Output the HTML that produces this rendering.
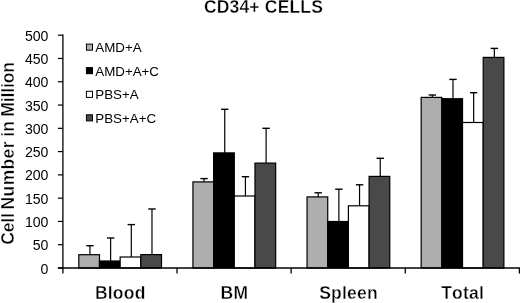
<!DOCTYPE html>
<html><head><meta charset="utf-8"><title>CD34+ CELLS</title>
<style>
html,body{margin:0;padding:0;background:#fff;}
body{width:520px;height:303px;overflow:hidden;}
svg{display:block;will-change:transform;}
text{font-family:"Liberation Sans",Arial,sans-serif;fill:#000;font-kerning:none;}
.t{font-weight:bold;font-size:17.5px;letter-spacing:0.18px;stroke:#fff;stroke-width:0.35px;}
.yl{font-weight:bold;font-size:17.5px;stroke:#fff;stroke-width:0.35px;}
.yt{font-size:14.1px;}
.c{font-weight:bold;font-size:17.5px;letter-spacing:0.2px;stroke:#fff;stroke-width:0.35px;}
.l{font-size:13.33px;}
</style></head><body>
<svg width="520" height="303" viewBox="0 0 520 303">
<rect width="520" height="303" fill="#fff"/>
<text class="t" x="263.5" y="12.6" text-anchor="middle">CD34+ CELLS</text>
<text class="yl" transform="translate(14.2,244.70) rotate(-90)" style="letter-spacing:-0.20px">Cell</text>
<text class="yl" transform="translate(14.2,209.40) rotate(-90)" style="letter-spacing:0.35px">Number</text>
<text class="yl" transform="translate(14.2,136.80) rotate(-90)" style="letter-spacing:0.30px">in</text>
<text class="yl" transform="translate(14.2,116.80) rotate(-90)" style="letter-spacing:-0.10px">Million</text>
<line x1="57.90" y1="268.00" x2="62.90" y2="268.00" stroke="#000" stroke-width="1.2"/>
<text class="yt" x="48.40" y="273.50" text-anchor="end">0</text>
<line x1="57.90" y1="244.72" x2="62.90" y2="244.72" stroke="#000" stroke-width="1.2"/>
<text class="yt" x="48.40" y="250.22" text-anchor="end">50</text>
<line x1="57.90" y1="221.44" x2="62.90" y2="221.44" stroke="#000" stroke-width="1.2"/>
<text class="yt" x="48.40" y="226.94" text-anchor="end">100</text>
<line x1="57.90" y1="198.16" x2="62.90" y2="198.16" stroke="#000" stroke-width="1.2"/>
<text class="yt" x="48.40" y="203.66" text-anchor="end">150</text>
<line x1="57.90" y1="174.88" x2="62.90" y2="174.88" stroke="#000" stroke-width="1.2"/>
<text class="yt" x="48.40" y="180.38" text-anchor="end">200</text>
<line x1="57.90" y1="151.60" x2="62.90" y2="151.60" stroke="#000" stroke-width="1.2"/>
<text class="yt" x="48.40" y="157.10" text-anchor="end">250</text>
<line x1="57.90" y1="128.32" x2="62.90" y2="128.32" stroke="#000" stroke-width="1.2"/>
<text class="yt" x="48.40" y="133.82" text-anchor="end">300</text>
<line x1="57.90" y1="105.04" x2="62.90" y2="105.04" stroke="#000" stroke-width="1.2"/>
<text class="yt" x="48.40" y="110.54" text-anchor="end">350</text>
<line x1="57.90" y1="81.76" x2="62.90" y2="81.76" stroke="#000" stroke-width="1.2"/>
<text class="yt" x="48.40" y="87.26" text-anchor="end">400</text>
<line x1="57.90" y1="58.48" x2="62.90" y2="58.48" stroke="#000" stroke-width="1.2"/>
<text class="yt" x="48.40" y="63.98" text-anchor="end">450</text>
<line x1="57.90" y1="35.20" x2="62.90" y2="35.20" stroke="#000" stroke-width="1.2"/>
<text class="yt" x="48.40" y="40.70" text-anchor="end">500</text>
<line x1="89.94" y1="245.70" x2="89.94" y2="254.70" stroke="#000" stroke-width="1.2"/>
<line x1="86.24" y1="245.70" x2="93.64" y2="245.70" stroke="#000" stroke-width="1.4"/>
<rect x="78.80" y="254.70" width="20.68" height="13.30" fill="#aeaeae" stroke="#000" stroke-width="1.2"/>
<line x1="110.62" y1="238.00" x2="110.62" y2="261.00" stroke="#000" stroke-width="1.2"/>
<line x1="106.92" y1="238.00" x2="114.32" y2="238.00" stroke="#000" stroke-width="1.4"/>
<rect x="99.48" y="261.00" width="20.68" height="7.00" fill="#000000" stroke="#000" stroke-width="1.2"/>
<line x1="131.30" y1="224.60" x2="131.30" y2="257.00" stroke="#000" stroke-width="1.2"/>
<line x1="127.60" y1="224.60" x2="135.00" y2="224.60" stroke="#000" stroke-width="1.4"/>
<rect x="120.16" y="257.00" width="20.68" height="11.00" fill="#ffffff" stroke="#000" stroke-width="1.2"/>
<line x1="151.98" y1="209.00" x2="151.98" y2="254.60" stroke="#000" stroke-width="1.2"/>
<line x1="148.28" y1="209.00" x2="155.68" y2="209.00" stroke="#000" stroke-width="1.4"/>
<rect x="140.84" y="254.60" width="20.68" height="13.40" fill="#494949" stroke="#000" stroke-width="1.2"/>
<line x1="204.07" y1="178.60" x2="204.07" y2="181.90" stroke="#000" stroke-width="1.2"/>
<line x1="200.37" y1="178.60" x2="207.77" y2="178.60" stroke="#000" stroke-width="1.4"/>
<rect x="192.93" y="181.90" width="20.68" height="86.10" fill="#aeaeae" stroke="#000" stroke-width="1.2"/>
<line x1="224.75" y1="109.30" x2="224.75" y2="152.90" stroke="#000" stroke-width="1.2"/>
<line x1="221.05" y1="109.30" x2="228.45" y2="109.30" stroke="#000" stroke-width="1.4"/>
<rect x="213.61" y="152.90" width="20.68" height="115.10" fill="#000000" stroke="#000" stroke-width="1.2"/>
<line x1="245.43" y1="176.70" x2="245.43" y2="196.00" stroke="#000" stroke-width="1.2"/>
<line x1="241.73" y1="176.70" x2="249.13" y2="176.70" stroke="#000" stroke-width="1.4"/>
<rect x="234.29" y="196.00" width="20.68" height="72.00" fill="#ffffff" stroke="#000" stroke-width="1.2"/>
<line x1="266.11" y1="128.30" x2="266.11" y2="163.10" stroke="#000" stroke-width="1.2"/>
<line x1="262.41" y1="128.30" x2="269.81" y2="128.30" stroke="#000" stroke-width="1.4"/>
<rect x="254.97" y="163.10" width="20.68" height="104.90" fill="#494949" stroke="#000" stroke-width="1.2"/>
<line x1="318.19" y1="192.80" x2="318.19" y2="196.90" stroke="#000" stroke-width="1.2"/>
<line x1="314.49" y1="192.80" x2="321.89" y2="192.80" stroke="#000" stroke-width="1.4"/>
<rect x="307.05" y="196.90" width="20.68" height="71.10" fill="#aeaeae" stroke="#000" stroke-width="1.2"/>
<line x1="338.87" y1="189.20" x2="338.87" y2="221.50" stroke="#000" stroke-width="1.2"/>
<line x1="335.17" y1="189.20" x2="342.57" y2="189.20" stroke="#000" stroke-width="1.4"/>
<rect x="327.73" y="221.50" width="20.68" height="46.50" fill="#000000" stroke="#000" stroke-width="1.2"/>
<line x1="359.55" y1="184.80" x2="359.55" y2="205.80" stroke="#000" stroke-width="1.2"/>
<line x1="355.85" y1="184.80" x2="363.25" y2="184.80" stroke="#000" stroke-width="1.4"/>
<rect x="348.41" y="205.80" width="20.68" height="62.20" fill="#ffffff" stroke="#000" stroke-width="1.2"/>
<line x1="380.23" y1="158.30" x2="380.23" y2="176.40" stroke="#000" stroke-width="1.2"/>
<line x1="376.53" y1="158.30" x2="383.93" y2="158.30" stroke="#000" stroke-width="1.4"/>
<rect x="369.09" y="176.40" width="20.68" height="91.60" fill="#494949" stroke="#000" stroke-width="1.2"/>
<line x1="432.31" y1="95.00" x2="432.31" y2="97.40" stroke="#000" stroke-width="1.2"/>
<line x1="428.61" y1="95.00" x2="436.01" y2="95.00" stroke="#000" stroke-width="1.4"/>
<rect x="421.17" y="97.40" width="20.68" height="170.60" fill="#aeaeae" stroke="#000" stroke-width="1.2"/>
<line x1="452.99" y1="79.40" x2="452.99" y2="98.70" stroke="#000" stroke-width="1.2"/>
<line x1="449.29" y1="79.40" x2="456.69" y2="79.40" stroke="#000" stroke-width="1.4"/>
<rect x="441.85" y="98.70" width="20.68" height="169.30" fill="#000000" stroke="#000" stroke-width="1.2"/>
<line x1="473.67" y1="92.70" x2="473.67" y2="122.50" stroke="#000" stroke-width="1.2"/>
<line x1="469.97" y1="92.70" x2="477.37" y2="92.70" stroke="#000" stroke-width="1.4"/>
<rect x="462.53" y="122.50" width="20.68" height="145.50" fill="#ffffff" stroke="#000" stroke-width="1.2"/>
<line x1="494.35" y1="48.40" x2="494.35" y2="57.40" stroke="#000" stroke-width="1.2"/>
<line x1="490.65" y1="48.40" x2="498.05" y2="48.40" stroke="#000" stroke-width="1.4"/>
<rect x="483.21" y="57.40" width="20.68" height="210.60" fill="#494949" stroke="#000" stroke-width="1.2"/>
<line x1="62.90" y1="34.60" x2="62.90" y2="273.60" stroke="#000" stroke-width="1.3"/>
<line x1="57.90" y1="268.00" x2="520.00" y2="268.00" stroke="#000" stroke-width="1.3"/>
<line x1="177.03" y1="268.00" x2="177.03" y2="273.60" stroke="#000" stroke-width="1.3"/>
<line x1="291.15" y1="268.00" x2="291.15" y2="273.60" stroke="#000" stroke-width="1.3"/>
<line x1="405.27" y1="268.00" x2="405.27" y2="273.60" stroke="#000" stroke-width="1.3"/>
<line x1="519.40" y1="268.00" x2="519.40" y2="273.60" stroke="#000" stroke-width="1.3"/>
<text class="c" x="120.26" y="299.00" text-anchor="middle">Blood</text>
<text class="c" x="234.39" y="299.00" text-anchor="middle">BM</text>
<text class="c" x="348.51" y="299.00" text-anchor="middle">Spleen</text>
<text class="c" x="462.64" y="299.00" text-anchor="middle">Total</text>
<rect x="86.4" y="44.10" width="6.1" height="6.1" fill="#aeaeae" stroke="#000" stroke-width="1"/>
<text class="l" x="95.3" y="52.10">AMD+A</text>
<rect x="86.4" y="67.60" width="6.1" height="6.1" fill="#000000" stroke="#000" stroke-width="1"/>
<text class="l" x="95.3" y="76.10">AMD+A+C</text>
<rect x="86.4" y="91.30" width="6.1" height="6.1" fill="#ffffff" stroke="#000" stroke-width="1"/>
<text class="l" x="95.3" y="99.30">PBS+A</text>
<rect x="86.4" y="114.80" width="6.1" height="6.1" fill="#494949" stroke="#000" stroke-width="1"/>
<text class="l" x="95.3" y="123.00">PBS+A+C</text>
</svg></body></html>
